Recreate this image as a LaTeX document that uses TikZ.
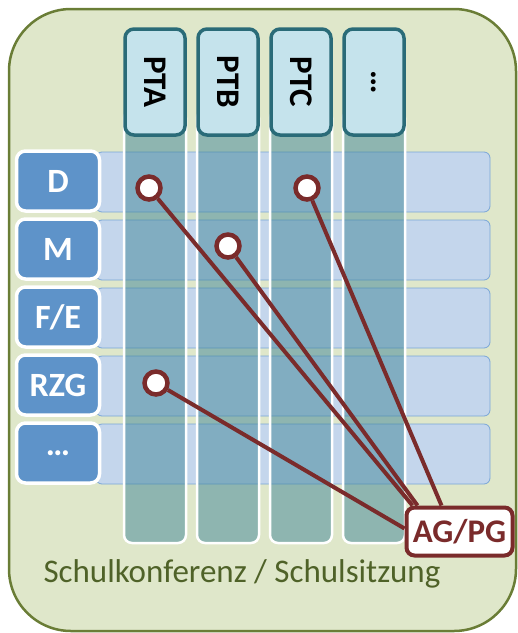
\documentclass[tikz,border=0pt]{standalone}
\usepackage{fontspec}
\setmainfont{Carlito}
\usetikzlibrary{positioning,calc}
\definecolor{konfbg}{HTML}{DFE7CA}
\definecolor{konfline}{HTML}{6A7D36}
\definecolor{konftext}{HTML}{4F6228}
\definecolor{bandfill}{HTML}{C4D6EC}
\definecolor{bandline}{HTML}{7AA6D8}
\definecolor{labfill}{HTML}{5E93C9}
\definecolor{headfill}{HTML}{C5E3EC}
\definecolor{headline}{HTML}{2A6B78}
\definecolor{colfill}{HTML}{3F8598}
\definecolor{agred}{HTML}{7A2B2B}
\tikzset{
  rowband/.style={draw=bandline,line width=0.8pt,fill=bandfill,rounded corners=6pt},
  rowlabel/.style={draw=white,line width=3.5pt,fill=labfill,rounded corners=9pt,
    minimum width=83pt,minimum height=60pt,text=white,
    font=\fontsize{34}{36}\selectfont\bfseries},
  colbody/.style={draw=white,line width=2.5pt,fill=colfill,fill opacity=0.5,rounded corners=8pt},
  colhead/.style={draw=headline,line width=3.5pt,fill=headfill,rounded corners=9pt,
    minimum width=106pt,minimum height=60pt,rotate=-90,
    font=\fontsize{33}{36}\selectfont\bfseries},
  dot/.style={circle,draw=agred,line width=4.5pt,fill=white,minimum size=23pt,inner sep=0pt},
  link/.style={draw=agred,line width=4pt},
  agbox/.style={draw=agred,line width=4pt,fill=white,rounded corners=8pt,
    minimum width=106pt,minimum height=48pt,text=agred,
    font=\fontsize{33}{36}\selectfont\bfseries}
}
\begin{document}
\begin{tikzpicture}[x=1pt,y=-1pt]
  \useasboundingbox (0,0) rectangle (518,633);
  % Schulkonferenz
  \draw[konfline,line width=2.5pt,fill=konfbg,rounded corners=62pt] (9,9) rectangle (516,631);
  % Faecher
  \foreach \lab [count=\i] in {D,M,{F/E},RZG,\ldots} {
    \draw[rowband] (96,{152+(\i-1)*68}) rectangle (490,{212+(\i-1)*68});
    \node[rowlabel] (row\i) at (58,{181+(\i-1)*68}) {\lab};
  }
  % Projektteams
  \foreach \lab [count=\j] in {PTA,PTB,PTC,\ldots} {
    \draw[colbody] ({124+(\j-1)*73},110) rectangle ({186+(\j-1)*73},543);
    \node[colhead] (pt\j) at ({155+(\j-1)*73},82) {\lab};
  }
  % Arbeitsgruppen
  \node[agbox] (ag) at (459.5,531.5) {AG/PG};
  \node[dot] (dA) at (149,188) {};
  \node[dot] (mB) at (228,246) {};
  \node[dot] (dC) at (307,188) {};
  \node[dot] (rA) at (156,383) {};
  \coordinate (agA) at ($(ag.north west)+(8,0)$);
  \coordinate (agB) at ($(ag.north west)+(13,0)$);
  \coordinate (agC) at ($(ag.north west)+(37,0)$);
  \coordinate (agR) at ($(ag.west)+(0,-3)$);
  \draw[link] (dA) -- (agA);
  \draw[link] (mB) -- (agB);
  \draw[link] (dC) -- (agC);
  \draw[link] (rA) -- (agR);
  \node[text=konftext,font=\fontsize{33}{36}\selectfont] (title) at (242,574) {Schulkonferenz / Schulsitzung};
\end{tikzpicture}
\end{document}
